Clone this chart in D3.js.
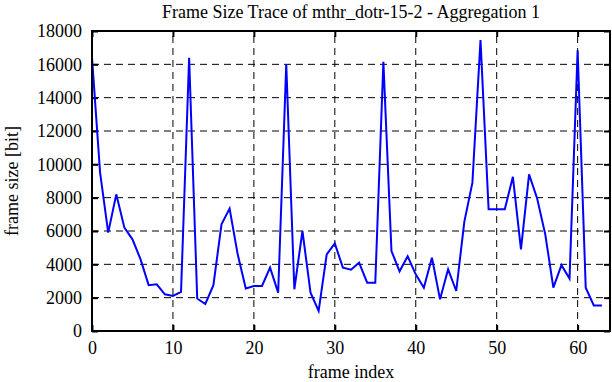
<!DOCTYPE html>
<html><head><meta charset="utf-8">
<script src="https://cdn.jsdelivr.net/npm/d3@7"></script>
<style>
html,body{margin:0;padding:0;background:#fff;}
svg{display:block;}
text{font-family:"Liberation Serif","DejaVu Serif",serif;fill:#000;}
</style></head><body>
<svg id="chart" width="612" height="382"></svg>
<script>
const title = "Frame Size Trace of mthr_dotr-15-2 - Aggregation 1";
const xLabel = "frame index";
const yLabel = "frame size [bit]";
const frameIndex = d3.range(0, 64);
const frameSize = [16400, 9500, 5900, 8200, 6200, 5500, 4300, 2750, 2800, 2200,
  2100, 2350, 16400, 1950, 1620, 2750, 6400, 7350, 4600, 2550,
  2700, 2700, 3800, 2300, 16000, 2500, 6000, 2300, 1200, 4600,
  5250, 3800, 3680, 4100, 2900, 2900, 16150, 4800, 3580, 4480,
  3400, 2600, 4400, 1900, 3700, 2400, 6550, 8900, 17450, 7300,
  7300, 7300, 9250, 4900, 9400, 7950, 5800, 2600, 3950, 3150,
  16850, 2600, 1530, 1530];
const xTicks = [0, 10, 20, 30, 40, 50, 60];
const yTicks = [0, 2000, 4000, 6000, 8000, 10000, 12000, 14000, 16000, 18000];

const svg = d3.select("#chart");
const m = {left: 92, top: 31, right: 612 - 610, bottom: 382 - 331};
const W = 612, H = 382;
const x = d3.scaleLinear().domain([0, 64]).range([m.left, W - m.right]);
const y = d3.scaleLinear().domain([0, 18000]).range([H - m.bottom, m.top]);

// grid
const g = svg.append("g");
g.selectAll("line.vg").data(xTicks.filter(d => d > 0)).join("line")
  .attr("x1", d => x(d)).attr("x2", d => x(d))
  .attr("y1", y(0)).attr("y2", y(18000))
  .attr("stroke", "#000").attr("stroke-width", 1).attr("stroke-dasharray", "7,5");
g.selectAll("line.hg").data(yTicks.filter(d => d > 0 && d < 18000)).join("line")
  .attr("x1", x(0)).attr("x2", x(64))
  .attr("y1", d => y(d)).attr("y2", d => y(d))
  .attr("stroke", "#000").attr("stroke-width", 1).attr("stroke-dasharray", "7,5");

// axes (ticks inward)
const axB = svg.append("g").attr("transform", `translate(0,${y(0)})`)
  .call(d3.axisBottom(x).tickValues(xTicks).tickSize(-6).tickPadding(10).tickFormat(d3.format("d")));
const axT = svg.append("g").attr("transform", `translate(0,${y(18000)})`)
  .call(d3.axisTop(x).tickValues(xTicks).tickSize(-6).tickFormat(""));
const axL = svg.append("g").attr("transform", `translate(${x(0)},0)`)
  .call(d3.axisLeft(y).tickValues(yTicks).tickSize(-6).tickPadding(10).tickFormat(d3.format("d")));
const axR = svg.append("g").attr("transform", `translate(${x(64)},0)`)
  .call(d3.axisRight(y).tickValues(yTicks).tickSize(-6).tickFormat(""));
[axB, axT, axL, axR].forEach(a => {
  a.select(".domain").remove();
  a.selectAll(".tick line").attr("stroke", "#000").attr("stroke-width", 2);
  a.selectAll("text").style("font-family", '"Liberation Serif",serif').style("font-size", "18px").attr("fill", "#000");
});
axB.selectAll("text").attr("dy", "0.71em");

// data line
const line = d3.line().x((d, i) => x(frameIndex[i])).y(d => y(d));
svg.append("path").datum(frameSize).attr("d", line)
  .attr("fill", "none").attr("stroke", "#0000ff").attr("stroke-width", 2).attr("stroke-linejoin", "miter");

// frame
svg.append("rect").attr("x", x(0)).attr("y", y(18000))
  .attr("width", x(64) - x(0)).attr("height", y(0) - y(18000))
  .attr("fill", "none").attr("stroke", "#000").attr("stroke-width", 2);

// labels
svg.append("text").attr("x", 351).attr("y", 18).attr("text-anchor", "middle")
  .style("font-size", "18px").text(title);
svg.append("text").attr("x", 351).attr("y", 378).attr("text-anchor", "middle")
  .style("font-size", "18px").text(xLabel);
svg.append("text").attr("transform", "translate(18,181) rotate(-90)").attr("text-anchor", "middle")
  .style("font-size", "18px").text(yLabel);
</script>
</body></html>
